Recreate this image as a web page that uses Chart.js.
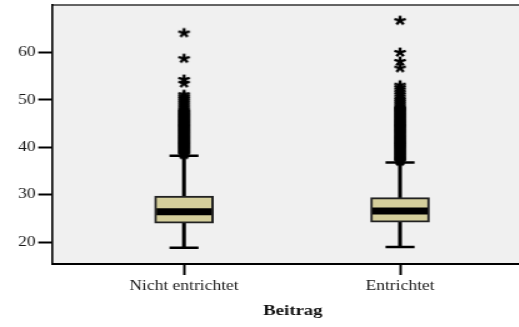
<!DOCTYPE html>
<html>
<head>
<meta charset="utf-8">
<script src="https://cdn.jsdelivr.net/npm/chart.js@4/dist/chart.umd.min.js"></script>
<style>
  html, body { margin: 0; padding: 0; background: #fff; overflow: hidden; width: 519px; height: 327px; }
  /* the chart is laid out on a 428px-wide canvas and shown 1.25x wider */
  #wrap { width: 428px; height: 327px; transform: scaleX(1.25); transform-origin: 0 0; }
  #chart { display: block; }
</style>
</head>
<body>
<div id="wrap"><canvas id="chart" width="428" height="327"></canvas></div>
<script>
// Box plot of Beitrag by payment status
const categories   = ['Nicht entrichtet', 'Entrichtet'];
const lowerWhisker = [18.8, 19.0];
const quartile1    = [24.0, 24.2];
const median       = [26.4, 26.55];
const quartile3    = [29.7, 29.4];
const upperWhisker = [38.2, 36.8];
const yTicks       = [20, 30, 40, 50, 60];

// extreme values (asterisks) per group
const outliersNichtEntrichtet = [
  64.2, 58.8, 54.4, 53.6, 51.2, 50.8, 50.4, 50.0, 49.6, 49.2, 48.8, 48.4,
  48.0, 47.7, 47.5, 47.3, 47.1, 46.9, 46.7, 46.5, 46.3, 46.1, 45.9, 45.7,
  45.5, 45.3, 45.1, 44.9, 44.7, 44.5, 44.3, 44.1, 43.9, 43.7, 43.5, 43.3,
  43.1, 42.9, 42.7, 42.5, 42.3, 42.1, 41.9, 41.7, 41.5, 41.3, 41.1, 40.9,
  40.7, 40.5, 40.3, 40.1, 39.9, 39.7, 39.5, 39.3, 39.1, 38.9, 38.7, 38.5
];
const outliersEntrichtet = [
  66.8, 60.1, 58.2, 56.8, 53.2, 52.7, 52.2, 51.7, 51.2, 50.7, 50.2, 49.8,
  49.4, 49.0, 48.6, 48.3, 48.1, 47.9, 47.7, 47.5, 47.3, 47.1, 46.9, 46.7,
  46.5, 46.3, 46.1, 45.9, 45.7, 45.5, 45.3, 45.1, 44.9, 44.7, 44.5, 44.3,
  44.1, 43.9, 43.7, 43.5, 43.3, 43.1, 42.9, 42.7, 42.5, 42.3, 42.1, 41.9,
  41.7, 41.5, 41.3, 41.1, 40.9, 40.7, 40.5, 40.3, 40.1, 39.9, 39.7, 39.5,
  39.3, 39.1, 38.9, 38.7, 38.5, 38.3, 38.1, 37.9, 37.7, 37.5, 37.3, 37.1
];
const outlierGroups = [outliersNichtEntrichtet, outliersEntrichtet];

// five-armed asterisk used as the outlier marker
function makeAsterisk() {
  const c = document.createElement('canvas');
  c.width = 12; c.height = 12;
  const g = c.getContext('2d');
  g.translate(6, 6.4);
  g.strokeStyle = '#000';
  g.lineWidth = 2.4;
  g.lineCap = 'butt';
  const r = 4.8;
  for (let k = 0; k < 5; k++) {
    const a = (-90 + k * 72) * Math.PI / 180;
    g.beginPath();
    g.moveTo(0, 0);
    g.lineTo(r * Math.cos(a), r * Math.sin(a));
    g.stroke();
  }
  return c;
}
const asterisk = makeAsterisk();

const pos = categories.map((_, i) => i + 1);
const serif = "'Liberation Serif', 'Times New Roman', serif";

// plot-area fill and top frame line
const frame = {
  id: 'frame',
  beforeDraw(chart) {
    const { ctx, chartArea: a } = chart;
    ctx.save();
    ctx.fillStyle = '#f0f0f0';
    ctx.fillRect(a.left, a.top, a.right - a.left, a.bottom - a.top);
    ctx.strokeStyle = '#333';
    ctx.lineWidth = 1.5;
    ctx.beginPath();
    ctx.moveTo(a.left, a.top);
    ctx.lineTo(a.right + 2, a.top);
    ctx.stroke();
    ctx.restore();
  }
};

new Chart(document.getElementById('chart'), {
  type: 'bar',
  data: {
    datasets: [
      {
        // whisker stems
        type: 'bar',
        data: pos.map((x, i) => ({ x, y: [lowerWhisker[i], upperWhisker[i]] })),
        backgroundColor: '#000',
        borderWidth: 0,
        barThickness: 2.4,
        grouped: false,
        order: 5
      },
      {
        // interquartile boxes
        type: 'bar',
        data: pos.map((x, i) => ({ x, y: [quartile1[i], quartile3[i]] })),
        backgroundColor: '#d4ce9b',
        borderColor: '#222',
        borderWidth: 2,
        borderSkipped: false,
        barThickness: 47,
        grouped: false,
        order: 4
      },
      {
        // medians
        type: 'scatter',
        data: pos.map((x, i) => ({ x, y: median[i] })),
        pointStyle: 'line',
        pointRadius: 22,
        pointBorderWidth: 7,
        pointBorderColor: '#000',
        order: 3
      },
      {
        // whisker caps
        type: 'scatter',
        data: pos.flatMap((x, i) => [{ x, y: lowerWhisker[i] }, { x, y: upperWhisker[i] }]),
        pointStyle: 'line',
        pointRadius: 11.6,
        pointBorderWidth: 2.5,
        pointBorderColor: '#000',
        order: 3
      },
      {
        // extreme values
        type: 'scatter',
        data: pos.flatMap((x, i) => outlierGroups[i].map(y => ({ x, y }))),
        pointStyle: asterisk,
        pointRadius: 5,
        order: 1
      }
    ]
  },
  options: {
    responsive: false,
    animation: false,
    events: [],
    layout: { autoPadding: false, padding: { top: 5, right: 1, left: 0, bottom: 0 } },
    plugins: { legend: { display: false }, tooltip: { enabled: false } },
    scales: {
      x: {
        type: 'linear',
        offset: false,
        min: 0.389,
        max: 2.619,
        afterBuildTicks: (axis) => { axis.ticks = pos.map(v => ({ value: v })); },
        afterFit: (scale) => {
          scale.height = 63;
          scale.paddingLeft = 0;
          scale.paddingRight = 0;
        },
        ticks: {
          callback: (v) => categories[v - 1],
          font: { family: serif, size: 14 },
          color: '#1a1a1a',
          padding: 3,
          maxRotation: 0
        },
        grid: {
          offset: false,
          drawOnChartArea: false,
          tickLength: 11,
          tickColor: '#000',
          tickWidth: 2
        },
        border: { display: true, color: '#000', width: 2 },
        title: {
          display: true,
          text: 'Beitrag',
          font: { family: serif, size: 15, weight: 'bold' },
          color: '#111',
          padding: { top: 0, bottom: 7 }
        }
      },
      y: {
        type: 'linear',
        min: 15.4,
        max: 70,
        afterBuildTicks: (axis) => { axis.ticks = yTicks.map(v => ({ value: v })); },
        afterFit: (scale) => {
          scale.width = 41.6;
          scale.paddingTop = 0;
          scale.paddingBottom = 0;
        },
        ticks: {
          font: { family: serif, size: 14 },
          color: '#1a1a1a',
          padding: 2
        },
        grid: {
          drawOnChartArea: false,
          tickLength: 11,
          tickColor: '#000',
          tickWidth: 2
        },
        border: { display: true, color: '#000', width: 1.6 }
      }
    }
  },
  plugins: [frame]
});
</script>
</body>
</html>
